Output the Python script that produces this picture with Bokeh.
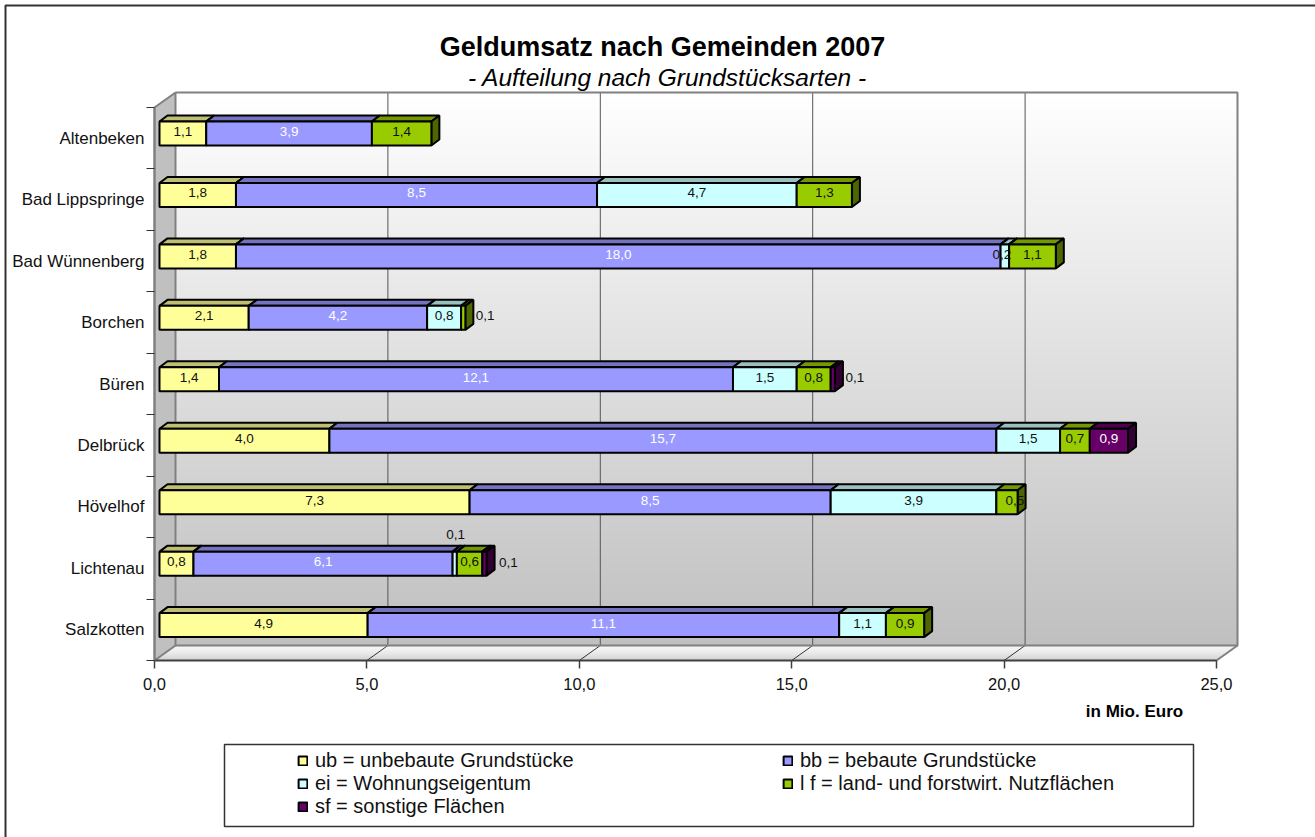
import numpy as np
from bokeh.plotting import figure
from bokeh.embed import file_html
from bokeh.resources import INLINE
from bokeh.core.properties import value
from bokeh.models import (Range1d, LinearAxis, FixedTicker, Label, BoxAnnotation,
                          Legend, LegendItem, ColumnDataSource)

# ---------- data ----------
categories = ["Altenbeken", "Bad Lippspringe", "Bad Wünnenberg", "Borchen", "Büren",
              "Delbrück", "Hövelhof", "Lichtenau", "Salzkotten"]
ub = [1.1, 1.8, 1.8, 2.1, 1.4, 4.0, 7.3, 0.8, 4.9]
bb = [3.9, 8.5, 18.0, 4.2, 12.1, 15.7, 8.5, 6.1, 11.1]
ei = [0.0, 4.7, 0.2, 0.8, 1.5, 1.5, 3.9, 0.1, 1.1]
lf = [1.4, 1.3, 1.1, 0.1, 0.8, 0.7, 0.5, 0.6, 0.9]
sf = [0.0, 0.0, 0.0, 0.0, 0.1, 0.9, 0.0, 0.1, 0.0]
series_names = ["ub = unbebaute Grundstücke", "bb = bebaute Grundstücke", "ei = Wohnungseigentum",
                "l f = land- und forstwirt. Nutzflächen", "sf = sonstige Flächen"]
value_ticks = [0, 5, 10, 15, 20, 25]

# ---------- styles ----------
FRONT = ["#FFFF99", "#9999FF", "#CCFFFF", "#99CC00", "#660066"]
TOP = ["#BFBF73", "#7373BF", "#99BFBF", "#739900", "#4D004D"]
SIDE = ["#808050", "#4D4D80", "#668080", "#4D6600", "#330033"]
LABEL_COL = ["#111111", "#FFFFFF", "#111111", "#111111", "#FFFFFF"]
# labels moved off their segment: (category, series) -> px offset
LABEL_SHIFT = {(2, 2): (-3, 0), (3, 3): (22, 0), (4, 4): (22, 0), (6, 3): (8, 0), (7, 2): (1, -27), (7, 4): (24, 1)}
LABEL_BASE_DY = -2

W, H = 1315, 837
PX_X0, PX_X25 = 154, 1216      # front plane, value axis
PX_FLOOR, ROW_TOP = 660, 107   # front plane, category axis
n_cat = len(categories)
ux = 25 / (PX_X25 - PX_X0)     # data units per px
uy = n_cat / (PX_FLOOR - ROW_TOP)
WALL_DX, WALL_DY = 21, 15      # depth of chart box, px
BAR_DX, BAR_DY = 5, 4.7        # bars' offset from front plane
DEP_X, DEP_Y = 8, 6            # bar depth
BAR_H = 24


def X(px):
    return (px - PX_X0) * ux


def Y(py):
    return (PX_FLOOR - py) * uy


p = figure(width=W, height=H, output_backend="svg", toolbar_location=None,
           x_range=Range1d(X(0), X(W)), y_range=Range1d(Y(H), Y(0)),
           min_border=0, background_fill_color="white", border_fill_color="white",
           outline_line_color=None, margin=(0, 0, 0, 0))
p.grid.visible = False
p.xaxis.visible = False
p.yaxis.visible = False

wx, wy = WALL_DX * ux, WALL_DY * uy
y_top = float(n_cat)
x_right = 25 + wx

# back wall gradient
n = 553
grad = np.linspace(192, 255, n).astype(np.uint32)
img = ((255 << 24) | (grad << 16) | (grad << 8) | grad).reshape(n, 1)
p.image_rgba(image=[img], x=wx, y=wy, dw=25, dh=y_top, level="image")

# floor strips
floor_n = 15
xs, ys, cols = [], [], []
for k in range(floor_n):
    t0, t1 = k / floor_n, (k + 1) / floor_n
    xa, xb = wx * (1 - t0), wx * (1 - t1)
    ya, yb = wy * (1 - t0), wy * (1 - t1)
    xs.append([xa, 25 + xa, 25 + xb + 0.01, xb])
    ys.append([ya, ya, yb - 0.003, yb - 0.003])
    g = int(245 - (245 - 200) * (t0 ** 1.5))
    cols.append(f"#{g:02x}{g:02x}{g:02x}")
p.patches(xs, ys, fill_color=cols, line_color=None)

# left wall
p.patch([0, wx, wx, 0], [y_top, y_top + wy, wy, 0], fill_color="#C0C0C0", line_color="#808080", line_width=2)

# grid lines on wall and floor
gv = list(value_ticks[1:-1])
p.segment([v + wx for v in gv], [y_top + wy] * len(gv), [v + wx for v in gv], [wy] * len(gv), line_color="#555555", line_width=1)
p.segment(gv, [0] * len(gv), [v + wx for v in gv], [wy] * len(gv), line_color="#333333", line_width=1)

# wall outline
p.line([wx, x_right, x_right, wx], [y_top + wy, y_top + wy, wy, wy], line_color="#808080", line_width=2)
p.line([x_right, 25], [wy, 0], line_color="#808080", line_width=2)

# bars
all_series = [ub, bb, ei, lf, sf]
cum = np.zeros(n_cat)
cy = n_cat - np.arange(n_cat) - 0.5 + BAR_DY * uy
x_off = BAR_DX * ux
hh = BAR_H / 2 * uy
dx, dy = DEP_X * ux, DEP_Y * uy
legend_items = []
lab_x, lab_y, lab_t, lab_c, lab_dx, lab_dy = [], [], [], [], [], []
for s, vals in enumerate(all_series):
    vals = np.array(vals)
    keep = np.nonzero(vals > 0)[0]
    left = cum[keep] + x_off
    right = left + vals[keep]
    yy = cy[keep]
    p.patches([[l, r, r + dx, l + dx] for l, r in zip(left, right)],
              [[y + hh, y + hh, y + hh + dy, y + hh + dy] for y in yy],
              fill_color=TOP[s], line_color="#000000", line_width=2)
    p.patches([[r, r + dx, r + dx, r] for r in right],
              [[y + hh, y + hh + dy, y - hh + dy, y - hh] for y in yy],
              fill_color=SIDE[s], line_color="#000000", line_width=2)
    q = p.quad(left=left, right=right, top=yy + hh, bottom=yy - hh,
               fill_color=FRONT[s], line_color="#000000", line_width=2)
    legend_items.append(LegendItem(label=series_names[s], renderers=[q]))
    for i, l, r, y in zip(keep, left, right, yy):
        sx, sy = LABEL_SHIFT.get((int(i), s), (0, 0))
        lab_x.append((l + r) / 2); lab_y.append(y)
        lab_t.append(f"{vals[i]:.1f}".replace(".", ","))
        lab_c.append("#111111" if sx > 20 or sy < -20 else LABEL_COL[s])
        lab_dx.append(sx); lab_dy.append(sy + LABEL_BASE_DY)
    cum = cum + vals

src = ColumnDataSource(dict(x=lab_x, y=lab_y, t=lab_t, c=lab_c, dx=lab_dx, dy=lab_dy))
p.text("x", "y", text="t", source=src, text_color="c", x_offset="dx", y_offset="dy",
       text_align="center", text_baseline="middle", text_font=value("Liberation Sans"),
       text_font_size="13.5px")

# axes
ax_b = LinearAxis(ticker=FixedTicker(ticks=value_ticks), bounds=(0, 25), fixed_location=0,
                  major_label_overrides={v: f"{v:.1f}".replace(".", ",") for v in value_ticks})
ax_b.axis_line_color = "#404040"; ax_b.axis_line_width = 2
ax_b.major_tick_line_color = "#404040"; ax_b.major_tick_line_width = 1.5
ax_b.major_tick_in = 0; ax_b.major_tick_out = 8
ax_b.minor_tick_line_color = None
ax_b.major_label_standoff = 9
ax_b.major_label_text_font = "Liberation Sans"
ax_b.major_label_text_font_size = "16.5px"
ax_b.major_label_text_color = "#111111"
p.add_layout(ax_b, "below")

ax_t = LinearAxis(ticker=FixedTicker(ticks=list(range(n_cat + 1))), bounds=(0, n_cat), fixed_location=0,
                  major_label_overrides={i: "" for i in range(n_cat + 1)})
ax_t.axis_line_color = "#808080"; ax_t.axis_line_width = 2
ax_t.major_tick_line_color = "#333333"; ax_t.major_tick_line_width = 1
ax_t.major_tick_in = 0; ax_t.major_tick_out = 8
ax_t.minor_tick_line_color = None
ax_t.major_label_text_font_size = "1px"
p.add_layout(ax_t, "left")

centers = [n_cat - i - 0.5 for i in range(n_cat)]
ax_l = LinearAxis(ticker=FixedTicker(ticks=centers), fixed_location=X(147),
                  major_label_overrides={c: n for c, n in zip(centers, categories)})
ax_l.axis_line_color = None
ax_l.major_tick_line_color = None
ax_l.minor_tick_line_color = None
ax_l.major_tick_in = 0; ax_l.major_tick_out = 0
ax_l.major_label_standoff = 3
ax_l.major_label_text_font = "Liberation Sans"
ax_l.major_label_text_font_size = "17px"
ax_l.major_label_text_color = "#111111"
p.add_layout(ax_l, "left")


def lbl(txt, px, py, size, style="normal", align="center"):
    p.add_layout(Label(x=px, y=H - py, x_units="screen", y_units="screen", text=txt,
                       text_font="Liberation Sans", text_font_size=size, text_font_style=style,
                       text_align=align, text_baseline="middle", text_color="#000000"))


lbl("Geldumsatz nach Gemeinden 2007", 662, 46, "27px", "bold")
lbl("- Aufteilung nach Grundstücksarten -", 667, 77, "24.5px", "italic")
lbl("in Mio. Euro", 1134, 711, "17px", "bold")

# frames
p.add_layout(BoxAnnotation(left=5, right=W + 20, top=H - 5, bottom=-20,
                           left_units="screen", right_units="screen", top_units="screen", bottom_units="screen",
                           fill_color=None, line_color="#333333", line_alpha=1, line_width=2, level="overlay"))
p.add_layout(BoxAnnotation(left=224, right=1193, top=H - 744, bottom=H - 826,
                           left_units="screen", right_units="screen", top_units="screen", bottom_units="screen",
                           fill_color=None, line_color="#333333", line_alpha=1, line_width=1.5, level="overlay"))

leg = Legend(items=legend_items, ncols=2, orientation="horizontal", location=(297, 19),
             border_line_color=None, background_fill_alpha=0,
             glyph_width=11, glyph_height=11, label_standoff=7, spacing=0, padding=0, margin=0,
             label_text_font="Liberation Sans", label_text_font_size="20px", label_text_color="#111111",
             label_width=467, label_height=18)
p.add_layout(leg)

open("out.html", "w").write(file_html(p, INLINE))
